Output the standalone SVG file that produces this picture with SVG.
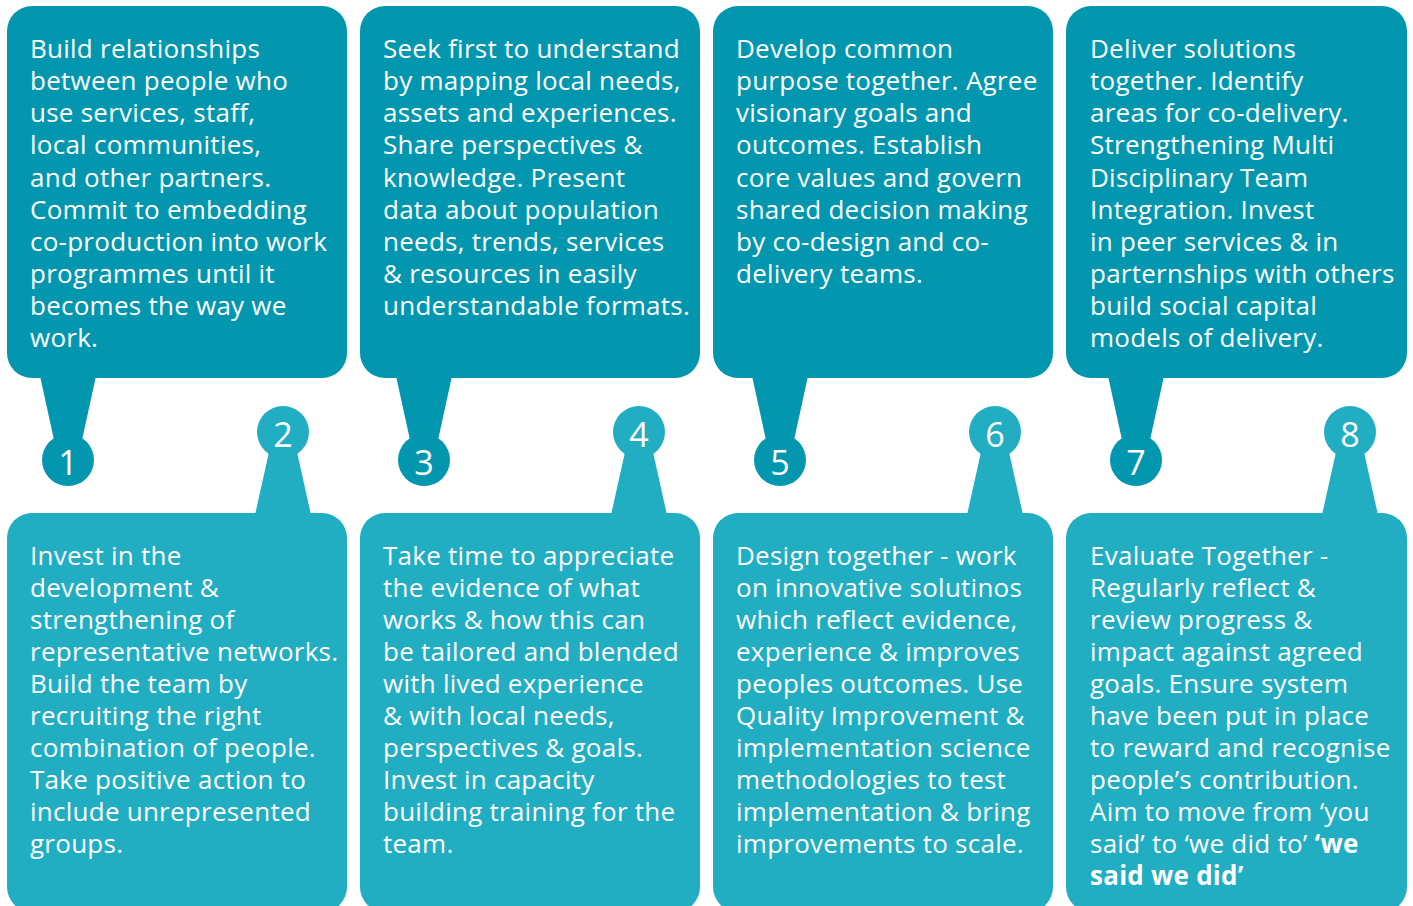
<svg xmlns="http://www.w3.org/2000/svg" width="1413" height="906" viewBox="0 0 1413 906">
  <style>
    .top { fill: #0297ae; }
    .bot { fill: #21adc2; }
    .txt { font-family: "Open Sans", "Noto Sans", sans-serif; font-size: 26px; letter-spacing: 0.25px; fill: #ffffff; }
    .num { font-family: "Open Sans", "Noto Sans", sans-serif; font-size: 34px; fill: #ffffff; text-anchor: middle; }
    .b { font-weight: 700; }
  </style>
  <rect width="1413" height="906" fill="#ffffff"/>

  <!-- pointers linking each card to its numbered badge -->
  <g id="connectors">
    <polygon class="top" points="40,376 96,376 82,440 54,440"/>
    <polygon class="top" points="396,376 452,376 438,440 410,440"/>
    <polygon class="top" points="752,376 808,376 794,440 766,440"/>
    <polygon class="top" points="1108,376 1164,376 1150,440 1122,440"/>
    <polygon class="bot" points="269,452 297,452 311,515 255,515"/>
    <polygon class="bot" points="625,452 653,452 667,515 611,515"/>
    <polygon class="bot" points="981,452 1009,452 1023,515 967,515"/>
    <polygon class="bot" points="1336,452 1364,452 1378,515 1322,515"/>
  </g>

  <!-- step 1 -->
  <g id="step1">
    <rect class="top" x="7" y="6" width="340" height="372" rx="25"/>
    <circle class="top" cx="68" cy="460" r="26"/>
    <text class="num" x="68" y="475">1</text>
    <text class="txt" x="30" y="58.3">
      <tspan x="30" dy="0">Build relationships</tspan>
      <tspan x="30" dy="32.05">between people who</tspan>
      <tspan x="30" dy="32.05">use services, staff,</tspan>
      <tspan x="30" dy="32.05">local communities,</tspan>
      <tspan x="30" dy="32.05">and other partners.</tspan>
      <tspan x="30" dy="32.05">Commit to embedding</tspan>
      <tspan x="30" dy="32.05">co-production into work</tspan>
      <tspan x="30" dy="32.05">programmes until it</tspan>
      <tspan x="30" dy="32.05">becomes the way we</tspan>
      <tspan x="30" dy="32.05">work.</tspan>
    </text>
  </g>

  <!-- step 2 -->
  <g id="step2">
    <rect class="bot" x="7" y="513" width="340" height="399" rx="25"/>
    <circle class="bot" cx="283" cy="432" r="26"/>
    <text class="num" x="283" y="447">2</text>
    <text class="txt" x="30" y="565">
      <tspan x="30" dy="0">Invest in the</tspan>
      <tspan x="30" dy="32">development &amp;</tspan>
      <tspan x="30" dy="32">strengthening of</tspan>
      <tspan x="30" dy="32">representative networks.</tspan>
      <tspan x="30" dy="32">Build the team by</tspan>
      <tspan x="30" dy="32">recruiting the right</tspan>
      <tspan x="30" dy="32">combination of people.</tspan>
      <tspan x="30" dy="32">Take positive action to</tspan>
      <tspan x="30" dy="32">include unrepresented</tspan>
      <tspan x="30" dy="32">groups.</tspan>
    </text>
  </g>

  <!-- step 3 -->
  <g id="step3">
    <rect class="top" x="360" y="6" width="340" height="372" rx="25"/>
    <circle class="top" cx="424" cy="460" r="26"/>
    <text class="num" x="424" y="475">3</text>
    <text class="txt" x="383" y="58.3">
      <tspan x="383" dy="0">Seek first to understand</tspan>
      <tspan x="383" dy="32.05">by mapping local needs,</tspan>
      <tspan x="383" dy="32.05">assets and experiences.</tspan>
      <tspan x="383" dy="32.05">Share perspectives &amp;</tspan>
      <tspan x="383" dy="32.05">knowledge. Present</tspan>
      <tspan x="383" dy="32.05">data about population</tspan>
      <tspan x="383" dy="32.05">needs, trends, services</tspan>
      <tspan x="383" dy="32.05">&amp; resources in easily</tspan>
      <tspan x="383" dy="32.05">understandable formats.</tspan>
    </text>
  </g>

  <!-- step 4 -->
  <g id="step4">
    <rect class="bot" x="360" y="513" width="340" height="399" rx="25"/>
    <circle class="bot" cx="639" cy="432" r="26"/>
    <text class="num" x="639" y="447">4</text>
    <text class="txt" x="383" y="565">
      <tspan x="383" dy="0">Take time to appreciate</tspan>
      <tspan x="383" dy="32">the evidence of what</tspan>
      <tspan x="383" dy="32">works &amp; how this can</tspan>
      <tspan x="383" dy="32">be tailored and blended</tspan>
      <tspan x="383" dy="32">with lived experience</tspan>
      <tspan x="383" dy="32">&amp; with local needs,</tspan>
      <tspan x="383" dy="32">perspectives &amp; goals.</tspan>
      <tspan x="383" dy="32">Invest in capacity</tspan>
      <tspan x="383" dy="32">building training for the</tspan>
      <tspan x="383" dy="32">team.</tspan>
    </text>
  </g>

  <!-- step 5 -->
  <g id="step5">
    <rect class="top" x="713" y="6" width="340" height="372" rx="25"/>
    <circle class="top" cx="780" cy="460" r="26"/>
    <text class="num" x="780" y="475">5</text>
    <text class="txt" x="736" y="58.3">
      <tspan x="736" dy="0">Develop common</tspan>
      <tspan x="736" dy="32.05">purpose together. Agree</tspan>
      <tspan x="736" dy="32.05">visionary goals and</tspan>
      <tspan x="736" dy="32.05">outcomes. Establish</tspan>
      <tspan x="736" dy="32.05">core values and govern</tspan>
      <tspan x="736" dy="32.05">shared decision making</tspan>
      <tspan x="736" dy="32.05">by co-design and co-</tspan>
      <tspan x="736" dy="32.05">delivery teams.</tspan>
    </text>
  </g>

  <!-- step 6 -->
  <g id="step6">
    <rect class="bot" x="713" y="513" width="340" height="399" rx="25"/>
    <circle class="bot" cx="995" cy="432" r="26"/>
    <text class="num" x="995" y="447">6</text>
    <text class="txt" x="736" y="565">
      <tspan x="736" dy="0">Design together - work</tspan>
      <tspan x="736" dy="32">on innovative solutinos</tspan>
      <tspan x="736" dy="32">which reflect evidence,</tspan>
      <tspan x="736" dy="32">experience &amp; improves</tspan>
      <tspan x="736" dy="32">peoples outcomes. Use</tspan>
      <tspan x="736" dy="32">Quality Improvement &amp;</tspan>
      <tspan x="736" dy="32">implementation science</tspan>
      <tspan x="736" dy="32">methodologies to test</tspan>
      <tspan x="736" dy="32">implementation &amp; bring</tspan>
      <tspan x="736" dy="32">improvements to scale.</tspan>
    </text>
  </g>

  <!-- step 7 -->
  <g id="step7">
    <rect class="top" x="1066" y="6" width="341" height="372" rx="25"/>
    <circle class="top" cx="1136" cy="460" r="26"/>
    <text class="num" x="1136" y="475">7</text>
    <text class="txt" x="1090" y="58.3">
      <tspan x="1090" dy="0">Deliver solutions</tspan>
      <tspan x="1090" dy="32.05">together. Identify</tspan>
      <tspan x="1090" dy="32.05">areas for co-delivery.</tspan>
      <tspan x="1090" dy="32.05">Strengthening Multi</tspan>
      <tspan x="1090" dy="32.05">Disciplinary Team</tspan>
      <tspan x="1090" dy="32.05">Integration. Invest</tspan>
      <tspan x="1090" dy="32.05">in peer services &amp; in</tspan>
      <tspan x="1090" dy="32.05">parternships with others</tspan>
      <tspan x="1090" dy="32.05">build social capital</tspan>
      <tspan x="1090" dy="32.05">models of delivery.</tspan>
    </text>
  </g>

  <!-- step 8 -->
  <g id="step8">
    <rect class="bot" x="1066" y="513" width="341" height="399" rx="25"/>
    <circle class="bot" cx="1350" cy="432" r="26"/>
    <text class="num" x="1350" y="447">8</text>
    <text class="txt" x="1090" y="565">
      <tspan x="1090" dy="0">Evaluate Together -</tspan>
      <tspan x="1090" dy="32">Regularly reflect &amp;</tspan>
      <tspan x="1090" dy="32">review progress &amp;</tspan>
      <tspan x="1090" dy="32">impact against agreed</tspan>
      <tspan x="1090" dy="32">goals. Ensure system</tspan>
      <tspan x="1090" dy="32">have been put in place</tspan>
      <tspan x="1090" dy="32">to reward and recognise</tspan>
      <tspan x="1090" dy="32">people’s contribution.</tspan>
      <tspan x="1090" dy="32">Aim to move from ‘you</tspan>
      <tspan x="1090" dy="32">said’ to ‘we did to’ <tspan class="b">‘we</tspan></tspan>
      <tspan x="1090" dy="32" class="b">said we did’</tspan>
    </text>
  </g>
</svg>
